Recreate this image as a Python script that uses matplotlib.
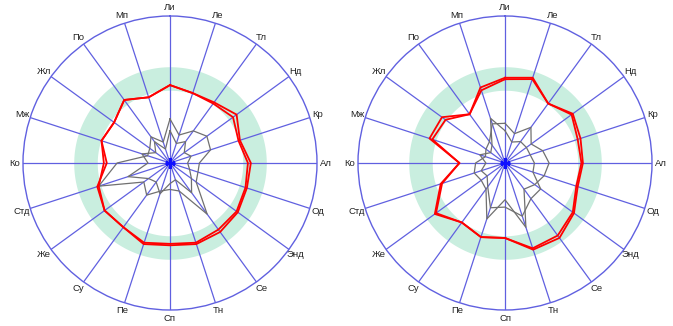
import numpy as np
import matplotlib
matplotlib.use("Agg")
import matplotlib.pyplot as plt

categories = ["Ли", "Ле", "Тл", "Нд", "Кр", "Ал", "Од", "Энд", "Се", "Тн",
              "Сп", "Пе", "Су", "Же", "Стд", "Ко", "Мж", "Жл", "По", "Мп"]

# left chart
left_red1 = [0.53, 0.50, 0.51, 0.56, 0.50, 0.55, 0.55, 0.57, 0.58, 0.58,
             0.56, 0.58, 0.54, 0.55, 0.52, 0.43, 0.49, 0.47, 0.53, 0.47]
left_red2 = [0.53, 0.50, 0.50, 0.53, 0.49, 0.53, 0.54, 0.56, 0.56, 0.57,
             0.55, 0.57, 0.54, 0.55, 0.51, 0.45, 0.49, 0.47, 0.53, 0.47]
left_gray1 = [0.30, 0.20, 0.27, 0.31, 0.29, 0.20, 0.20, 0.22, 0.43, 0.20,
              0.18, 0.20, 0.27, 0.22, 0.51, 0.36, 0.16, 0.17, 0.22, 0.15]
left_gray2 = [0.22, 0.14, 0.18, 0.12, 0.15, 0.12, 0.14, 0.18, 0.25, 0.12,
              0.14, 0.22, 0.16, 0.18, 0.30, 0.15, 0.20, 0.12, 0.18, 0.10]

# right chart
right_red1 = [0.58, 0.61, 0.50, 0.57, 0.54, 0.53, 0.52, 0.58, 0.63, 0.62,
              0.51, 0.53, 0.50, 0.59, 0.46, 0.31, 0.54, 0.53, 0.41, 0.54]
right_red2 = [0.57, 0.60, 0.50, 0.56, 0.52, 0.52, 0.51, 0.57, 0.61, 0.61,
              0.51, 0.53, 0.50, 0.58, 0.45, 0.31, 0.52, 0.50, 0.41, 0.52]
right_gray1 = [0.27, 0.21, 0.30, 0.22, 0.27, 0.30, 0.28, 0.25, 0.22, 0.46,
               0.25, 0.40, 0.22, 0.20, 0.22, 0.20, 0.14, 0.16, 0.18, 0.28]
right_gray2 = [0.22, 0.15, 0.18, 0.18, 0.18, 0.20, 0.20, 0.30, 0.30, 0.38,
               0.30, 0.32, 0.20, 0.15, 0.17, 0.13, 0.18, 0.12, 0.15, 0.32]

band = (0.495, 0.655)

BLUE = "#6060e0"
GREEN = "#c9eedf"
RED = "#ff0000"
GRAY = "#707070"

fig = plt.figure(figsize=(6.73, 3.26), dpi=100)
fig.patch.set_facecolor("white")

W, H = 673.0, 326.0
R = 147.0
centers = [(170.0, 163.0), (505.0, 163.0)]
datasets = [
    (left_red1, left_red2, left_gray1, left_gray2),
    (right_red1, right_red2, right_gray1, right_gray2),
]

n = len(categories)
theta = np.arange(n) * 2 * np.pi / n

for (cx, cy), (r1, r2, g1, g2) in zip(centers, datasets):
    ax = fig.add_axes([(cx - R) / W, (H - cy - R) / H, 2 * R / W, 2 * R / H],
                      projection="polar")
    ax.set_theta_zero_location("N")
    ax.set_theta_direction(-1)
    ax.set_ylim(0, 1)
    ax.grid(False)
    ax.set_xticks([])
    ax.set_yticks([])
    ax.spines["polar"].set_color(BLUE)
    ax.spines["polar"].set_linewidth(1.0)

    # green band
    tt = np.linspace(0, 2 * np.pi, 361)
    ax.fill_between(tt, band[0], band[1], color=GREEN, linewidth=0, zorder=1)

    # spokes
    for t in theta:
        ax.plot([t, t], [0, 1], color=BLUE, linewidth=0.9, zorder=2)

    tc = np.append(theta, theta[0])
    for g in (g1, g2):
        ax.plot(tc, np.append(g, g[0]), color=GRAY, linewidth=0.9, zorder=3)
    for r in (r1, r2):
        ax.plot(tc, np.append(r, r[0]), color=RED, linewidth=1.3, zorder=4)

    ax.plot([0], [0], marker="+", color="#1010ff", markersize=7,
            markeredgewidth=2.2, zorder=5)

    for t, lab in zip(theta, categories):
        ax.text(t, 1.058, lab, ha="center", va="center", fontsize=6.8,
                family=["Liberation Sans", "DejaVu Sans"],
                color="#222222", clip_on=False)

fig.savefig("out.png", dpi=100, facecolor="white")
